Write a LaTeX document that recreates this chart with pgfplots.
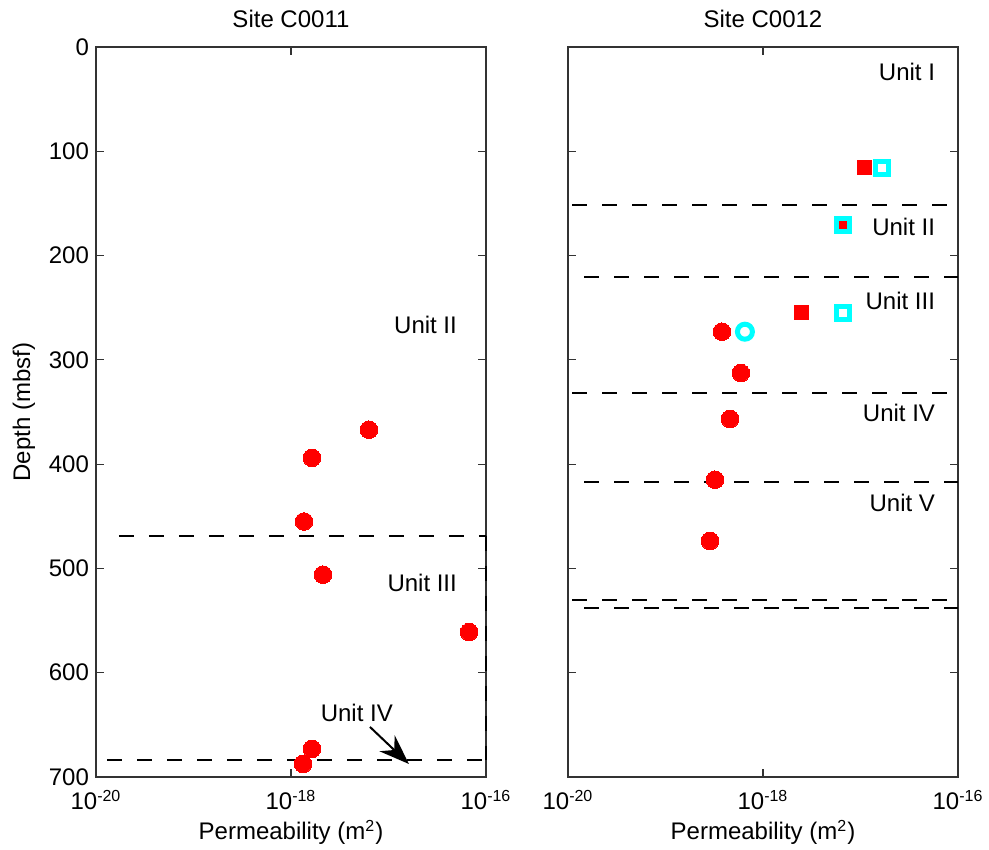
\documentclass[border=0pt]{standalone}
\usepackage{fontspec}
\setmainfont{Liberation Sans}
\usepackage{pgfplots}
\pgfplotsset{compat=1.18}
\usetikzlibrary{arrows.meta}
\definecolor{mred}{RGB}{255,0,0}
\definecolor{mcyan}{RGB}{0,255,255}
\begin{document}
\begin{tikzpicture}[font=\fontsize{12pt}{14.5pt}\selectfont]
\pgfplotsset{
  every axis/.append style={
    scale only axis, width=195pt, height=365pt,
    xmode=log, xmin=1e-20, xmax=1e-16,
    ymin=0, ymax=700, y dir=reverse,
    xtick={1e-20,1e-18,1e-16},
    xticklabels={10\textsuperscript{-20},10\textsuperscript{-18},10\textsuperscript{-16}},
    xminorticks=false,
    ytick={0,100,...,700},
    tick align=inside, major tick length=4pt,
    axis line style={line width=0.6pt, black!80},
    every tick/.style={black!80, line width=0.6pt},
    /pgf/number format/assume math mode=true,
    tick label style={font=\fontsize{12pt}{14.5pt}\selectfont},
    xticklabel style={yshift=-3pt},
    label style={font=\fontsize{12pt}{14.5pt}\selectfont},
    xlabel style={yshift=2pt},
    title style={font=\fontsize{12pt}{14.5pt}\selectfont, yshift=0pt},
    xlabel={Permeability (m\textsuperscript{2})},
    clip=false,
  },
  dline/.style={black, line width=1pt, dash pattern=on 7.5pt off 7.5pt},
  rc/.style={only marks, mark=*, mark size=4.4pt, mred, mark options={fill=mred, draw=mred, line width=0pt}},
  rs/.style={only marks, mark=square*, mark size=3.5pt, mred, mark options={fill=mred, draw=mred, line width=0pt}},
  cs/.style={only marks, mark=square, mark size=3.25pt, mcyan, mark options={draw=mcyan, line width=2.5pt}},
  cc/.style={only marks, mark=o, mark size=3.75pt, mcyan, mark options={draw=mcyan, line width=2.5pt}},
}
% ---------- Site C0011 ----------
\begin{axis}[name=L, at={(0,0)}, anchor=south west,
  title={Site C0011}, ylabel={Depth (mbsf)}]
\addplot[dline] coordinates {(1.72e-20,468.6) (1e-16,468.6)};
\addplot[dline] coordinates {(1.30e-20,683.7) (1e-16,683.7)};
\addplot[dline] coordinates {(1e-16,468.6) (1e-16,683.7)};
\addplot[rc] coordinates {
(6.3e-18,367) (1.64e-18,394) (1.36e-18,455) (2.13e-18,506)
(6.70e-17,561) (1.64e-18,673) (1.33e-18,687.5)};
\node[anchor=east] at (axis cs:5.94e-17,266.5) {Unit II};
\node[anchor=east] at (axis cs:5.94e-17,514) {Unit III};
\node[anchor=east] at (axis cs:1.31e-17,638.6) {Unit IV};
\draw[line width=1pt, -{Stealth[length=15pt,width=11pt]}] (axis cs:6.46e-18,652) -- (axis cs:1.62e-17,687.5);
\end{axis}
% ---------- Site C0012 ----------
\begin{axis}[name=R, at={(236pt,0)}, anchor=south west,
  title={Site C0012}, yticklabels={}]
\addplot[dline] coordinates {(1.10e-20,151.5) (7.88e-17,151.5)};
\addplot[dline] coordinates {(1.46e-20,220.8) (1e-16,220.8)};
\addplot[dline] coordinates {(1.10e-20,332) (7.88e-17,332)};
\addplot[dline] coordinates {(1.46e-20,416.8) (1e-16,416.8)};
\addplot[dline] coordinates {(1.10e-20,530.2) (7.88e-17,530.2)};
\addplot[dline] coordinates {(1.46e-20,537.9) (1e-16,537.9)};
\addplot[rs] coordinates {(1.11e-17,116) (2.51e-18,255)};
\addplot[cs] coordinates {(1.66e-17,116) (6.62e-18,255)};
\addplot[cs, mark options={fill=mred, draw=mcyan, line width=2.5pt}, mark=square*] coordinates {(6.62e-18,170.7)};
\addplot[rc] coordinates {
(3.79e-19,273) (5.94e-19,312.6) (4.59e-19,356.7) (3.22e-19,415) (2.86e-19,473.7)};
\addplot[cc] coordinates {(6.53e-19,273)};
\node[anchor=east] at (axis cs:6.86e-17,24) {Unit I};
\node[anchor=east] at (axis cs:6.86e-17,172.6) {Unit II};
\node[anchor=east] at (axis cs:6.86e-17,243.5) {Unit III};
\node[anchor=east] at (axis cs:6.86e-17,351) {Unit IV};
\node[anchor=east] at (axis cs:6.86e-17,437.2) {Unit V};
\end{axis}
\pgfresetboundingbox
\path[use as bounding box] (-48pt,-36.5pt) rectangle (446.5pt,388.5pt);
\end{tikzpicture}
\end{document}
